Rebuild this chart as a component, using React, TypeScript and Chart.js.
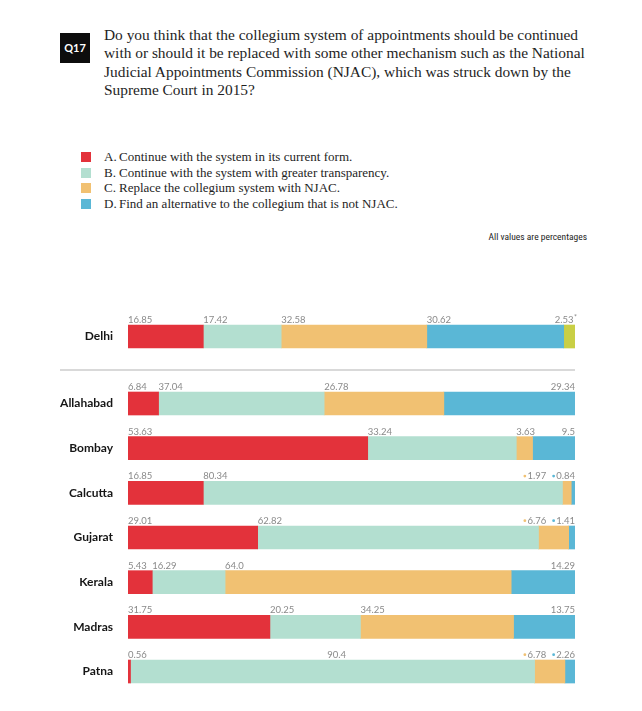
import React, { useEffect, useRef } from "react";
import { Chart, registerables } from "chart.js";

Chart.register(...registerables);

const categories = ["Delhi", "Allahabad", "Bombay", "Calcutta", "Gujarat", "Kerala", "Madras", "Patna"];
const rowPositions = [0, 1.5, 2.5, 3.5, 4.5, 5.5, 6.5, 7.5];
const separatorAt = 0.75;

const optionA = [16.85, 6.84, 53.63, 16.85, 29.01, 5.43, 31.75, 0.56];
const optionB = [17.42, 37.04, 33.24, 80.34, 62.82, 16.29, 20.25, 90.4];
const optionC = [32.58, 26.78, 3.63, 1.97, 6.76, 64.0, 34.25, 6.78];
const optionD = [30.62, 29.34, 9.5, 0.84, 1.41, 14.29, 13.75, 2.26];
const optionE = [2.53, null, null, null, null, null, null, null];

const seriesNames = ["A", "B", "C", "D", "E"];
const seriesValues = [optionA, optionB, optionC, optionD, optionE];
const seriesColors = ["#E3323B", "#B3DFD0", "#F1C172", "#5AB7D6", "#C9CF45"];
const seriesNotes = ["", "", "", "", "*"];

const legendKeys = ["A.", "B.", "C.", "D."];
const legendTexts = [
  "Continue with the system in its current form.",
  "Continue with the system with greater transparency.",
  "Replace the collegium system with NJAC.",
  "Find an alternative to the collegium that is not NJAC.",
];

const titleLines = [
  "Do you think that the collegium system of appointments should be continued",
  "with or should it be replaced with some other mechanism such as the National",
  "Judicial Appointments Commission (NJAC), which was struck down by the",
  "Supreme Court in 2015?",
];

const fmt = (v: number) => (Number.isInteger(v) ? v.toFixed(1) : String(v));

const separatorPlugin = {
  id: "separator",
  beforeDatasetsDraw(chart: any) {
    const ctx = chart.ctx;
    const y = chart.scales.y.getPixelForValue(separatorAt);
    ctx.save();
    ctx.strokeStyle = "#cdcdcd";
    ctx.lineWidth = 1.5;
    ctx.beginPath();
    ctx.moveTo(chart.chartArea.left - 68, y);
    ctx.lineTo(chart.chartArea.right, y);
    ctx.stroke();
    ctx.restore();
  },
};

const labelPlugin = {
  id: "segLabels",
  afterDatasetsDraw(chart: any) {
    const ctx = chart.ctx;
    ctx.save();
    ctx.font = "9.5px Lato";
    ctx.textBaseline = "alphabetic";
    for (let i = 0; i < categories.length; i++) {
      const segs: any[] = [];
      seriesValues.forEach((vals, d) => {
        const v = vals[i];
        if (v == null) return;
        const el = chart.getDatasetMeta(d).data[i];
        const p = el.getProps(["x", "y", "base", "height"], true);
        segs.push({
          v,
          d,
          left: Math.min(p.x, p.base),
          right: Math.max(p.x, p.base),
          top: p.y - p.height / 2,
        });
      });
      if (!segs.length) continue;
      const last = segs.length - 1;
      const compact = segs.length === 4 && segs[last].v < 3;
      const baseY = segs[0].top - 2;
      ctx.fillStyle = "#8a8a8a";
      let prevEnd = -Infinity;
      segs.forEach((s, k) => {
        if (compact && k >= last - 1) return;
        const t = fmt(s.v);
        const w = ctx.measureText(t).width;
        if (k === last) {
          const note = seriesNotes[s.d];
          ctx.textAlign = "right";
          ctx.fillText(t, s.right - (note ? 1.5 : 0), baseY);
          if (note) {
            ctx.save();
            ctx.font = "7px Lato";
            ctx.textAlign = "left";
            ctx.fillText(note, s.right - 1, baseY - 3);
            ctx.restore();
          }
        } else {
          let x = s.left;
          if (x < prevEnd + 3) x = (s.left + s.right) / 2 - w / 2 + 4;
          ctx.textAlign = "left";
          ctx.fillText(t, x, baseY);
          prevEnd = x + w;
        }
      });
      if (compact) {
        let xr = segs[last].right;
        for (let k = last; k >= last - 1; k--) {
          const t = fmt(segs[k].v);
          ctx.fillStyle = "#8a8a8a";
          ctx.textAlign = "right";
          ctx.fillText(t, xr, baseY);
          const w = ctx.measureText(t).width;
          ctx.fillStyle = seriesColors[segs[k].d];
          ctx.beginPath();
          ctx.arc(xr - w - 2.6, baseY - 3.3, 1.4, 0, Math.PI * 2);
          ctx.fill();
          xr = xr - w - 2.6 - 1.4 - 6;
        }
      }
    }
    ctx.restore();
  },
};

function BarChart() {
  const ref = useRef<HTMLCanvasElement | null>(null);
  useEffect(() => {
    if (!ref.current) return;
    const chart = new Chart(ref.current, {
      type: "bar",
      data: {
        datasets: seriesValues.map((vals, d) => ({
          label: seriesNames[d],
          data: vals.map((v, i) => ({ x: v, y: rowPositions[i] })),
          backgroundColor: seriesColors[d],
          borderWidth: 0,
          barThickness: 23,
          stack: "row",
        })),
      },
      options: {
        indexAxis: "y",
        animation: false,
        responsive: false,
        maintainAspectRatio: false,
        layout: { padding: { left: 0, right: 33, top: 0, bottom: 0 } },
        plugins: { legend: { display: false }, tooltip: { enabled: false } },
        scales: {
          x: { type: "linear", min: 0, max: 100, stacked: true, display: false },
          y: {
            type: "linear",
            reverse: true,
            offset: false,
            min: -0.862,
            max: 8.093,
            stacked: true,
            grid: { display: false, drawTicks: false, offset: false },
            border: { display: false },
            afterBuildTicks: (axis: any) => {
              axis.ticks = rowPositions.map((v) => ({ value: v }));
            },
            afterFit: (axis: any) => {
              axis.width = 120;
              axis.paddingTop = 0;
              axis.paddingBottom = 0;
            },
            ticks: {
              padding: 15,
              color: "#161616",
              font: { family: "Lato", weight: "bold", size: 12 },
              callback: (value: any) => {
                const idx = rowPositions.indexOf(Number(value));
                return idx >= 0 ? categories[idx] : "";
              },
            },
          },
        },
      } as any,
      plugins: [separatorPlugin, labelPlugin],
    });
    return () => chart.destroy();
  }, []);
  return (
    <canvas
      ref={ref}
      width={600}
      height={400}
      style={{ position: "absolute", left: 0, top: 290, width: 600, height: 400 }}
    />
  );
}

export default function App() {
  const serif = '"Liberation Serif", "Times New Roman", serif';
  return (
    <div style={{ position: "relative", width: 626, height: 695, background: "#fff" }}>
      <div
        style={{
          position: "absolute",
          left: 52,
          top: 25,
          width: 30,
          height: 30,
          background: "#0d0d0d",
          color: "#fff",
          fontFamily: "Lato, sans-serif",
          fontWeight: 700,
          fontSize: 11,
          lineHeight: "30px",
          textAlign: "center",
        }}
      >
        Q17
      </div>
      <div
        style={{
          position: "absolute",
          left: 96,
          top: 17.5,
          fontFamily: serif,
          fontSize: 15.4,
          lineHeight: "18.5px",
          color: "#1e1e1e",
          whiteSpace: "nowrap",
        }}
      >
        {titleLines.map((l, i) => (
          <div key={i}>{l}</div>
        ))}
      </div>
      {legendTexts.map((t, i) => (
        <div
          key={i}
          style={{
            position: "absolute",
            left: 73,
            top: 141.5 + i * 15.5,
            height: 15.5,
            display: "flex",
            alignItems: "center",
            fontFamily: serif,
            fontSize: 13,
            color: "#1e1e1e",
            whiteSpace: "nowrap",
          }}
        >
          <span style={{ display: "inline-block", flex: "none", width: 10, height: 10, background: seriesColors[i], marginRight: 13 }} />
          <span style={{ display: "inline-block", flex: "none", width: 15 }}>{legendKeys[i]}</span>
          <span>{t}</span>
        </div>
      ))}
      <div
        style={{
          position: "absolute",
          right: 626 - 579,
          top: 223,
          fontFamily: '"Liberation Sans Narrow", "Roboto Condensed", Lato, sans-serif',
          fontSize: 9.5,
          lineHeight: "12px",
          color: "#1e1e1e",
          whiteSpace: "nowrap",
        }}
      >
        All values are percentages
      </div>
      <BarChart />
    </div>
  );
}
